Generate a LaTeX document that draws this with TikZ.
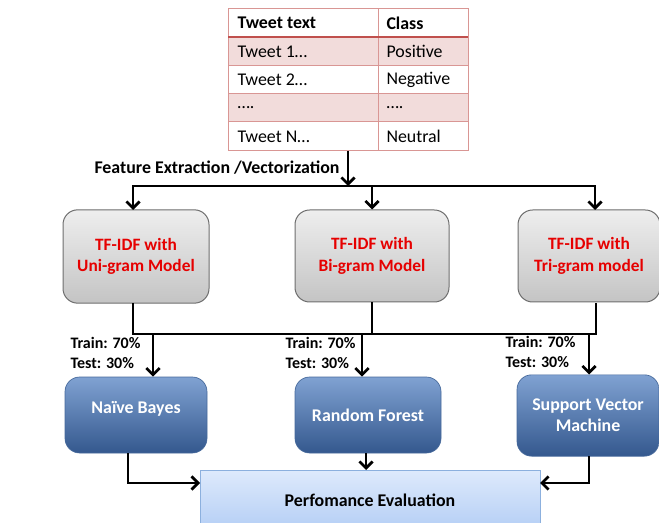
\documentclass[tikz,border=0pt]{standalone}
\usepackage{fontspec}
\setmainfont{Carlito}
\usetikzlibrary{arrows.meta}

\definecolor{tabLine}{RGB}{217,150,148}
\definecolor{tabHead}{RGB}{192,80,77}
\definecolor{rowPink}{RGB}{242,220,219}
\definecolor{tfRed}{RGB}{230,0,0}

\tikzset{every picture/.style={line width=0.75pt}}
\tikzset{
  conn/.style={line width=2pt, -{Straight Barb[length=5pt,width=10pt]}},
  bus/.style={line width=2pt},
  cellText/.style={anchor=west, inner sep=0.75pt, font=\fontsize{13.4}{15}\selectfont},
  grayBox/.style={draw={rgb,255:red,110;green,110;blue,110}, line width=0.75pt, rounded corners=11pt,
    top color={rgb,255:red,238;green,238;blue,238}, bottom color={rgb,255:red,196;green,196;blue,196},
    align=center, text=tfRed, font=\bfseries\fontsize{13}{16}\selectfont},
  blueBox/.style={draw={rgb,255:red,70;green,105;blue,155}, line width=0.5pt, rounded corners=11pt,
    top color={rgb,255:red,128;green,162;blue,210}, bottom color={rgb,255:red,52;green,88;blue,142},
    align=center, text=white, font=\bfseries\fontsize{13.4}{16}\selectfont},
  splitText/.style={anchor=north west, inner sep=0.75pt, align=left, font=\bfseries\fontsize{12}{14.5}\selectfont}
}

\begin{document}
\begin{tikzpicture}[x=0.75pt,y=0.75pt,yscale=-1,xscale=1]
\useasboundingbox (0,0) rectangle (659,523);

%Table rows
\fill [rowPink] (228,37) rectangle (468,66) ;
\fill [rowPink] (228,94) rectangle (468,122) ;
\draw [tabLine] (228,9) rectangle (468,151) ;
\foreach \y in {66,94,122} \draw [tabLine] (228,\y) -- (468,\y) ;
\draw [tabLine] (378,9) -- (378,151) ;
\draw [tabHead, line width=1.2pt] (228,37) -- (468,37) ;

% Text Node
\draw (236,23) node (hTweet) [cellText] {\bfseries Tweet text};
\draw (385,23) node (hClass) [cellText] {\bfseries Class};
\draw (236,51.5) node (tw1) [cellText] {Tweet 1…};
\draw (385,51.5) node (cl1) [cellText] {Positive};
\draw (236,80) node (tw2) [cellText] {Tweet 2…};
\draw (385,80) node (cl2) [cellText] {Negative};
\draw (236,108) node (tw3) [cellText] {….};
\draw (385,108) node (cl3) [cellText] {….};
\draw (236,136.5) node (twN) [cellText] {Tweet N…};
\draw (385,136.5) node (clN) [cellText] {Neutral};

\coordinate (tabBot) at (348,151);
\coordinate (split) at (348,186);

% Text Node
\draw (341,168) node (feat) [anchor=east, inner sep=0.75pt, font=\bfseries\fontsize{13.4}{15}\selectfont] {Feature Extraction /Vectorization};

%TF-IDF boxes
\draw (136,256.5) node (tf1) [grayBox, minimum width=109.5pt, minimum height=70pt] {TF-IDF with\\Uni-gram Model};
\draw (372,256) node (tf2) [grayBox, minimum width=115.5pt, minimum height=69pt] {TF-IDF with\\Bi-gram Model};
\draw (589,256) node (tf3) [grayBox, minimum width=106.5pt, minimum height=69pt] {TF-IDF with\\Tri-gram model};

%Straight Lines
\draw [conn] (tabBot) -- (split) ;
\draw [conn] (split) -| (133,210) ;
\draw [conn] (split) -| (tf2) ;
\draw [conn] (split) -| (595,210) ;
\draw [bus] (split) -- (347,186) ;

%Classifier boxes
\draw (136,415) node (nb) [blueBox, minimum width=106.5pt, minimum height=57pt] {Naïve Bayes\\[-4pt]};
\draw (368,415) node (rf) [blueBox, minimum width=109.5pt, minimum height=57pt] {Random Forest};
\draw (588,415.5) node (svm) [blueBox, minimum width=106.5pt, minimum height=61pt] {Support Vector\\Machine};

\coordinate (busL) at (133,334);
\coordinate (busR) at (596,334);
\draw [bus] (133,303) |- (busR) -- (596,303) ;
\draw [bus] (tf2.south) -- (tf2.south |- busR) ;

\coordinate (a1) at (153,334);
\coordinate (a2) at (362,334);
\coordinate (a3) at (589,334);
\draw [conn] (a1) -- (a1 |- nb.north) ;
\draw [conn] (a2) -- (a2 |- rf.north) ;
\draw [conn] (a3) -- (a3 |- svm.north) ;

% Text Node
\draw (69,336) node (sp1) [splitText] {Train: 70\%\\Test: 30\%};
\draw (284,336) node (sp2) [splitText] {Train: 70\%\\Test: 30\%};
\draw (504,335) node (sp3) [splitText] {Train: 70\%\\Test: 30\%};

%Evaluation box
\draw (370,500) node (perf) [draw={rgb,255:red,140;green,176;blue,222}, line width=0.75pt,
  top color={rgb,255:red,222;green,234;blue,252}, bottom color={rgb,255:red,180;green,206;blue,245},
  minimum width=255pt, minimum height=45pt, font=\bfseries\fontsize{13.4}{15}\selectfont] {Perfomance Evaluation};

\coordinate (in1) at (200,483);
\coordinate (in3) at (540,483);
\draw [conn] (128,453) |- (in1) ;
\draw [conn] (rf.south -| 366,0) -- (366,470) ;
\draw [conn] (589,456) |- (in3) ;
\end{tikzpicture}
\end{document}
